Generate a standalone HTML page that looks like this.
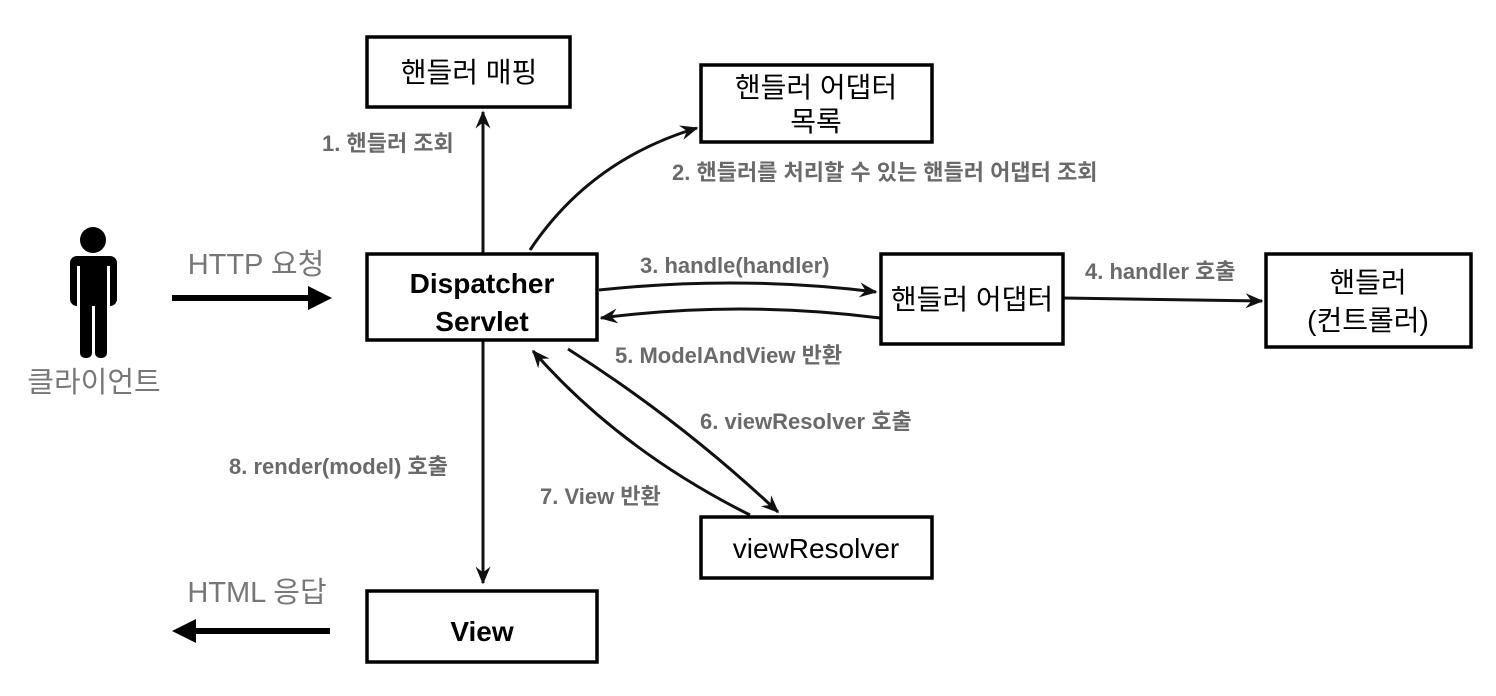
<!DOCTYPE html>
<html><head><meta charset="utf-8"><style>
html,body{margin:0;padding:0;background:#fff;}
svg{display:block;}
.b{fill:#fff;stroke:#000;stroke-width:3.5;}
.t{font-family:"Liberation Sans","Noto Sans CJK KR",sans-serif;fill:#000;font-size:28px;text-anchor:middle;}
.tb{font-weight:bold;}
.l{font-family:"Liberation Sans","Noto Sans CJK KR",sans-serif;fill:#6a6a6a;font-size:22px;font-weight:bold;}
.g{font-family:"Liberation Sans","Noto Sans CJK KR",sans-serif;fill:#777;font-size:29px;}
.a{fill:none;stroke:#111;stroke-width:3;}
</style></head><body>
<svg width="1496" height="696" viewBox="0 0 1496 696" xmlns="http://www.w3.org/2000/svg">
<defs>
<marker id="m" viewBox="0 0 12 12" refX="11" refY="6" markerWidth="6" markerHeight="6" orient="auto-start-reverse" markerUnits="strokeWidth">
<path d="M0,1 L12,6 L0,11 L4,6 Z" fill="#111"/>
</marker>
</defs>
<g fill="#000">
<circle cx="93" cy="240" r="13"/>
<rect x="70" y="256" width="47" height="50" rx="7"/>
<rect x="80" y="290" width="12" height="68" rx="5"/>
<rect x="95" y="290" width="12" height="68" rx="5"/>
</g>
<rect x="77" y="266" width="3" height="40" fill="#fff"/>
<rect x="107" y="266" width="3" height="40" fill="#fff"/>
<text class="g" x="94" y="392" font-size="31" text-anchor="middle">클라이언트</text>
<text class="g" x="256" y="274" text-anchor="middle">HTTP 요청</text>
<text class="g" x="257" y="602" text-anchor="middle">HTML 응답</text>
<line x1="172" y1="298" x2="310" y2="298" stroke="#000" stroke-width="6"/>
<path d="M308,286 L332,298 L308,310 Z" fill="#000"/>
<line x1="196" y1="631" x2="330" y2="631" stroke="#000" stroke-width="6"/>
<path d="M196,619 L172,631 L196,643 Z" fill="#000"/>

<path class="a" d="M483,253 L483,112" marker-end="url(#m)"/>
<path class="a" d="M483,340 L483,583" marker-end="url(#m)"/>
<path class="a" d="M530,250 Q590,160 697,128" marker-end="url(#m)"/>
<path class="a" d="M599,290 Q740,275 876,292" marker-end="url(#m)"/>
<path class="a" d="M880,318 Q740,300 601,318" marker-end="url(#m)"/>
<path class="a" d="M1063,298 L1262,301" marker-end="url(#m)"/>
<path class="a" d="M568,349 Q680,420 778,512" marker-end="url(#m)"/>
<path class="a" d="M750,515 Q620,450 533,351" marker-end="url(#m)"/>

<rect class="b" x="367" y="37" width="203" height="70"/>
<text class="t" x="469" y="82">핸들러 매핑</text>
<rect class="b" x="701" y="65" width="231" height="77"/>
<text class="t" x="816" y="97">핸들러 어댑터</text>
<text class="t" x="816" y="131">목록</text>
<rect class="b" x="367" y="254" width="230" height="86"/>
<text class="t tb" x="482" y="293" font-size="30">Dispatcher</text>
<text class="t tb" x="482" y="331" font-size="30">Servlet</text>
<rect class="b" x="881" y="254" width="182" height="90"/>
<text class="t" x="972" y="309">핸들러 어댑터</text>
<rect class="b" x="1266" y="254" width="205" height="93"/>
<text class="t" x="1368" y="292">핸들러</text>
<text class="t" x="1368" y="330">(컨트롤러)</text>
<rect class="b" x="701" y="517" width="231" height="61"/>
<text class="t" x="816" y="558" font-size="29">viewResolver</text>
<rect class="b" x="367" y="591" width="230" height="71"/>
<text class="t tb" x="482" y="641" font-size="27">View</text>

<text class="l" x="322" y="151">1. 핸들러 조회</text>
<text class="l" x="672" y="180">2. 핸들러를 처리할 수 있는 핸들러 어댑터 조회</text>
<text class="l" x="640" y="273">3. handle(handler)</text>
<text class="l" x="1085" y="279">4. handler 호출</text>
<text class="l" x="615" y="363">5. ModelAndView 반환</text>
<text class="l" x="700" y="429">6. viewResolver 호출</text>
<text class="l" x="540" y="504">7. View 반환</text>
<text class="l" x="229" y="474">8. render(model) 호출</text>
</svg>
</body></html>
